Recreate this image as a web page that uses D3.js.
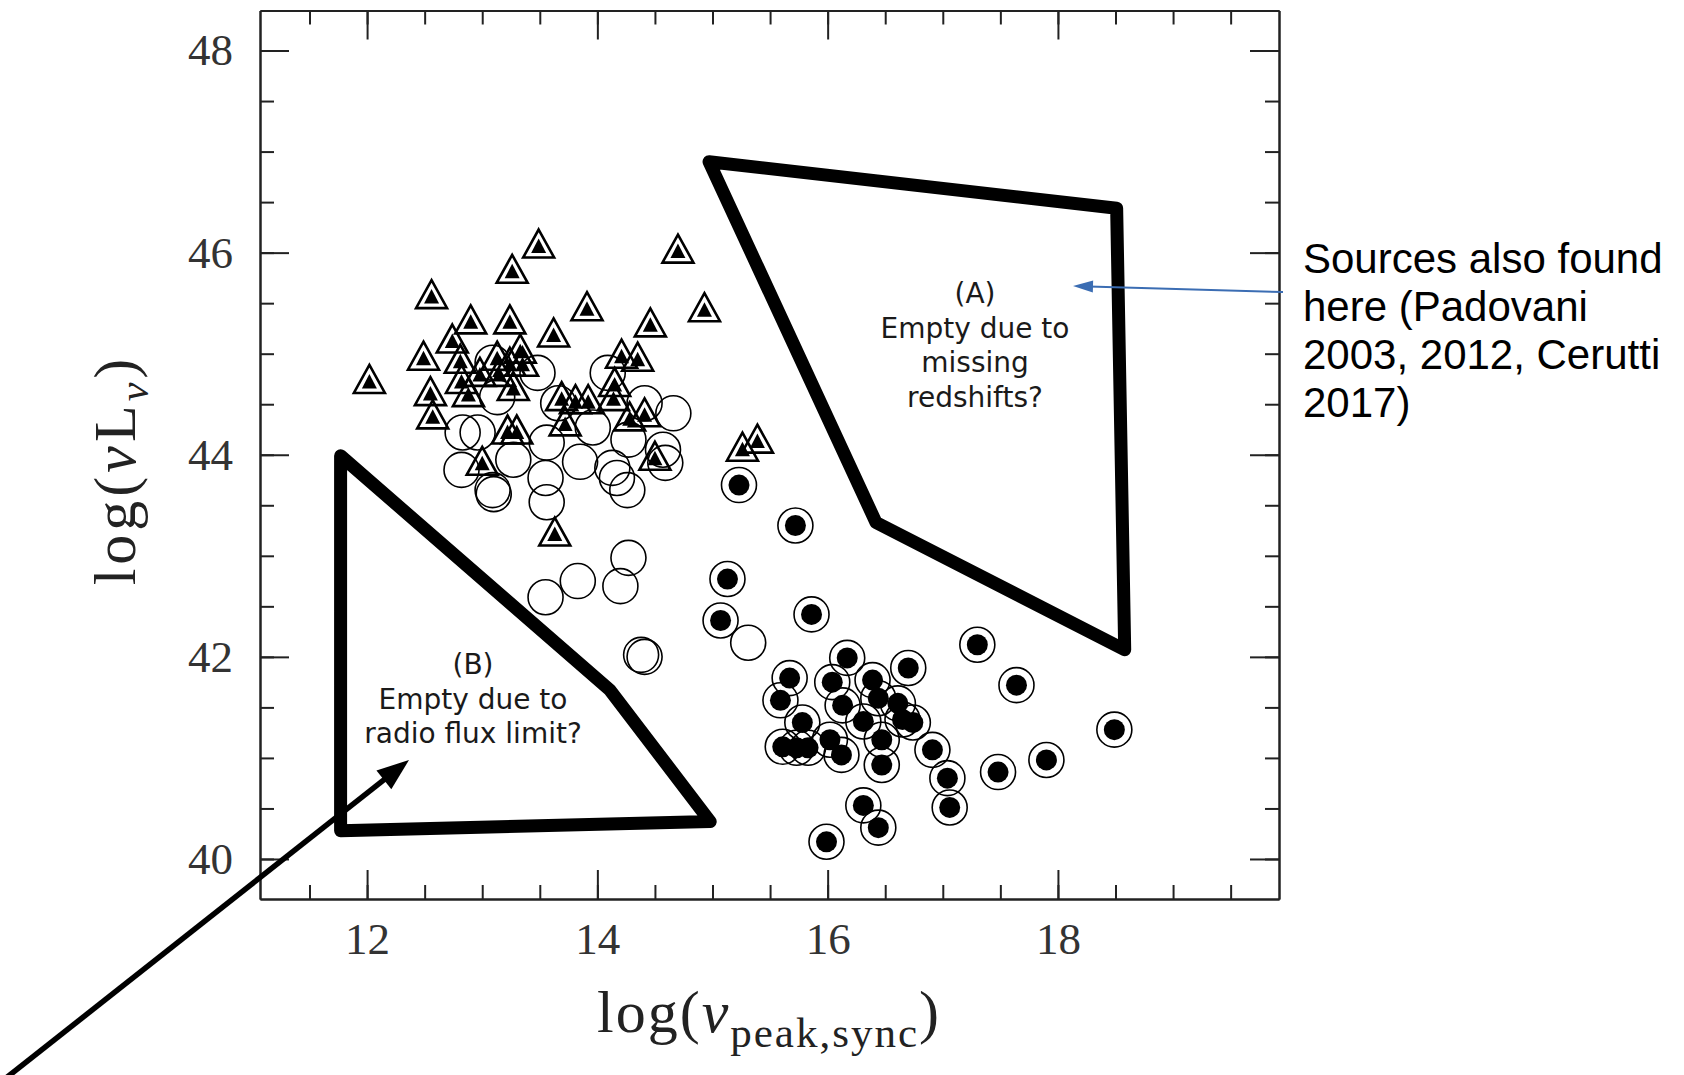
<!DOCTYPE html>
<html>
<head>
<meta charset="utf-8">
<title>Blazar sequence - empty regions</title>
<script src="https://cdn.jsdelivr.net/npm/d3@7"></script>
<style>
    body { margin: 0; background: #fff; }
    svg { display: block; background: #fff; }
    .tick text { font-family: "Liberation Serif", serif; font-size: 45px; fill: #333; }
    .tick line, .domain { stroke: #222; stroke-width: 2; }
    .title { font-family: "Liberation Serif", serif; fill: #222; }
    .region-note { font-family: "DejaVu Sans", sans-serif; font-size: 28px; fill: #1a1a1a; text-anchor: middle; }
    .side-note { font-family: "Liberation Sans", Arial, sans-serif; font-size: 42px; fill: #000; }
</style>
</head>
<body>
<script>

// data: [log nu_peak, log nuL_nu]
var triangles = [
    [13.49, 46.08], [13.26, 45.83], [14.70, 46.03], [12.56, 45.58], [13.91, 45.46], [14.93, 45.45],
    [12.90, 45.33], [13.24, 45.33], [13.62, 45.20], [14.46, 45.30], [12.74, 45.14], [12.49, 44.97],
    [12.02, 44.74], [14.21, 44.99], [14.35, 44.96], [13.33, 45.04], [12.81, 44.94], [13.13, 44.97],
    [13.24, 44.91], [13.35, 44.91], [12.98, 44.81], [12.82, 44.74], [13.15, 44.81], [13.27, 44.67],
    [12.55, 44.62], [12.88, 44.61], [12.57, 44.39], [13.69, 44.57], [13.81, 44.54], [13.92, 44.54],
    [13.72, 44.32], [14.15, 44.71], [14.14, 44.57], [14.28, 44.37], [14.41, 44.41], [13.22, 44.24],
    [13.30, 44.24], [13.00, 43.93], [14.50, 43.98], [13.63, 43.23], [15.26, 44.07], [15.39, 44.15]
];

var openCircles = [
    [13.09, 44.91], [13.48, 44.81], [13.13, 44.57], [12.83, 44.22], [12.96, 44.22], [12.82, 43.85],
    [13.27, 43.95], [13.09, 43.65], [13.10, 43.61], [13.56, 44.12], [13.55, 43.77], [13.56, 43.53],
    [13.85, 43.93], [13.96, 44.27], [13.66, 44.51], [14.09, 44.81], [14.41, 44.51], [14.66, 44.41],
    [14.27, 44.15], [14.57, 44.05], [14.59, 43.92], [14.13, 43.87], [14.17, 43.77], [14.26, 43.65],
    [13.55, 42.59], [13.83, 42.75], [14.20, 42.70], [14.27, 42.98], [14.38, 42.02], [14.41, 42.00],
    [15.31, 42.14]
];

var dotCircles = [
    [15.23, 43.70], [15.72, 43.30], [15.13, 42.77], [15.07, 42.36], [15.86, 42.42], [17.30, 42.12],
    [16.17, 41.99], [16.70, 41.89], [15.67, 41.79], [16.04, 41.75], [16.39, 41.77], [15.59, 41.57],
    [16.13, 41.52], [16.44, 41.59], [16.61, 41.54], [16.65, 41.38], [16.74, 41.35], [16.31, 41.36],
    [15.78, 41.35], [16.02, 41.18], [16.47, 41.18], [15.61, 41.11], [15.73, 41.10], [15.83, 41.10],
    [16.12, 41.03], [16.47, 40.93], [16.91, 41.08], [17.04, 40.80], [17.06, 40.51], [16.31, 40.53],
    [16.44, 40.31], [15.99, 40.17], [17.48, 40.86], [17.90, 40.98], [17.64, 41.72], [18.49, 41.28]
];

// outlined empty regions
var regionA = [[14.97, 46.90], [18.51, 46.44], [18.58, 42.07], [16.42, 43.33]];
var regionB = [[11.77, 43.99], [14.11, 41.67], [14.98, 40.37], [11.77, 40.28]];

var xMajor = [12, 14, 16, 18];
var yMajor = [40, 42, 44, 46, 48];
var xMinor = d3.range(11.5, 20, 0.5);
var yMinor = d3.range(40, 48.5, 0.5);

var noteA = ["(A)", "Empty due to", "missing", "redshifts?"];
var noteB = ["(B)", "Empty due to", "radio flux limit?"];
var sideNote = ["Sources also found", "here (Padovani", "2003, 2012, Cerutti", "2017)"];

var width = 1684, height = 1075;
var box = {left: 260, right: 1279, top: 10.5, bottom: 899};

var x = d3.scaleLinear().domain([11.07, 19.92]).range([box.left, box.right]);
var y = d3.scaleLinear().domain([39.604, 48.396]).range([box.bottom, box.top]);

var svg = d3.select("body").append("svg")
        .attr("width", width)
        .attr("height", height);

// ---- axes: minor ticks first, then major ticks with labels
function addAxis(axis, tr)
{
    return svg.append("g")
            .attr("transform", tr)
            .call(axis);
}

addAxis(d3.axisBottom(x).tickValues(xMinor).tickSize(-14).tickSizeOuter(0).tickFormat(""), "translate(0," + box.bottom + ")");
addAxis(d3.axisBottom(x).tickValues(xMajor).tickSize(-29).tickSizeOuter(0).tickPadding(23).tickFormat(d3.format("d")), "translate(0," + box.bottom + ")");
addAxis(d3.axisTop(x).tickValues(xMinor).tickSize(-14).tickSizeOuter(0).tickFormat(""), "translate(0," + box.top + ")");
addAxis(d3.axisTop(x).tickValues(xMajor).tickSize(-29).tickSizeOuter(0).tickFormat(""), "translate(0," + box.top + ")");

addAxis(d3.axisLeft(y).tickValues(yMinor).tickSize(-14).tickSizeOuter(0).tickFormat(""), "translate(" + box.left + ",0)");
addAxis(d3.axisLeft(y).tickValues(yMajor).tickSize(-29).tickSizeOuter(0).tickPadding(27).tickFormat(d3.format("d")), "translate(" + box.left + ",0)");
addAxis(d3.axisRight(y).tickValues(yMinor).tickSize(-14).tickSizeOuter(0).tickFormat(""), "translate(" + box.right + ",0)");
addAxis(d3.axisRight(y).tickValues(yMajor).tickSize(-29).tickSizeOuter(0).tickFormat(""), "translate(" + box.right + ",0)");

// ---- axis titles (serif, a little spaced out like the TeX font)
var xt = svg.append("text").attr("class", "title")
        .attr("x", 769).attr("y", 1032)
        .attr("text-anchor", "middle")
        .attr("font-size", 60)
        .attr("letter-spacing", 2);
xt.append("tspan").text("log(");
xt.append("tspan").attr("font-style", "italic").text("ν");
xt.append("tspan").attr("font-size", 43).attr("dy", 15).text("peak,sync");
xt.append("tspan").attr("dy", -15).text(")");

var yt = svg.append("text").attr("class", "title")
        .attr("transform", "translate(135,470) rotate(-90)")
        .attr("text-anchor", "middle")
        .attr("font-size", 60)
        .attr("letter-spacing", 4);
yt.append("tspan").text("log(");
yt.append("tspan").attr("font-style", "italic").text("ν");
yt.append("tspan").text("L");
yt.append("tspan").attr("font-size", 42).attr("font-style", "italic").attr("dy", 13).text("ν");
yt.append("tspan").attr("dy", -13).text(")");

// ---- empty regions
var line = d3.line()
        .x(function (d) { return x(d[0]); })
        .y(function (d) { return y(d[1]); })
        .curve(d3.curveLinearClosed);

svg.selectAll("path.region")
        .data([regionA, regionB])
        .enter().append("path")
        .attr("class", "region")
        .attr("d", line)
        .attr("fill", "none")
        .attr("stroke", "#000")
        .attr("stroke-width", 13)
        .attr("stroke-linejoin", "round");

// ---- points
var outerTri = "M0,-15L15.5,13L-15.5,13Z",
        innerTri = "M0,-6L7.5,8.5L-7.5,8.5Z";

var tg = svg.selectAll("g.tri")
        .data(triangles)
        .enter().append("g")
        .attr("class", "tri")
        .attr("transform", function (d) { return "translate(" + x(d[0]) + "," + y(d[1]) + ")"; });
tg.append("path").attr("d", outerTri).attr("fill", "none").attr("stroke", "#000").attr("stroke-width", 2.6);
tg.append("path").attr("d", innerTri).attr("fill", "#000");

svg.selectAll("circle.open")
        .data(openCircles)
        .enter().append("circle")
        .attr("class", "open")
        .attr("cx", function (d) { return x(d[0]); })
        .attr("cy", function (d) { return y(d[1]); })
        .attr("r", 17.5)
        .attr("fill", "none")
        .attr("stroke", "#000")
        .attr("stroke-width", 1.6);

var dg = svg.selectAll("g.dot")
        .data(dotCircles)
        .enter().append("g")
        .attr("class", "dot")
        .attr("transform", function (d) { return "translate(" + x(d[0]) + "," + y(d[1]) + ")"; });
dg.append("circle").attr("r", 17.5).attr("fill", "none").attr("stroke", "#000").attr("stroke-width", 1.6);
dg.append("circle").attr("r", 10.5).attr("fill", "#000");

// ---- notes inside the plot
svg.append("text").attr("class", "region-note")
        .selectAll("tspan").data(noteA).enter().append("tspan")
        .attr("x", 975)
        .attr("y", function (d, i) { return 303 + i * 34.5; })
        .text(function (d) { return d; });

svg.append("text").attr("class", "region-note")
        .selectAll("tspan").data(noteB).enter().append("tspan")
        .attr("x", 473)
        .attr("y", function (d, i) { return 674 + i * 34.5; })
        .text(function (d) { return d; });

// ---- note on the right
svg.append("text").attr("class", "side-note")
        .selectAll("tspan").data(sideNote).enter().append("tspan")
        .attr("x", 1303)
        .attr("y", function (d, i) { return 273 + i * 48; })
        .text(function (d) { return d; });

// ---- arrows
function arrow(from, to, color, w, headLen, headHalf)
{
    var a = Math.atan2(to[1] - from[1], to[0] - from[0]),
            c = Math.cos(a), s = Math.sin(a),
            bx = to[0] - c * headLen * 0.8, by = to[1] - s * headLen * 0.8;
    svg.append("line")
            .attr("x1", from[0]).attr("y1", from[1])
            .attr("x2", bx).attr("y2", by)
            .attr("stroke", color).attr("stroke-width", w);
    var hx = to[0] - c * headLen, hy = to[1] - s * headLen;
    svg.append("path")
            .attr("d", "M" + to[0] + "," + to[1]
                    + "L" + (hx - s * headHalf) + "," + (hy + c * headHalf)
                    + "L" + (hx + s * headHalf) + "," + (hy - c * headHalf) + "Z")
            .attr("fill", color);
}

arrow([1283, 292], [1073, 286], "#3b6db3", 2, 20, 6);
arrow([6, 1078], [409, 760], "#000", 5.5, 32, 12);

</script>
</body>
</html>
